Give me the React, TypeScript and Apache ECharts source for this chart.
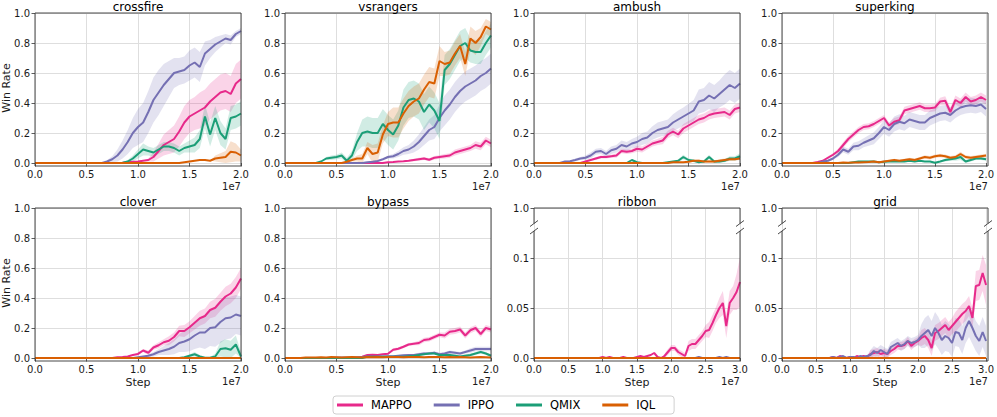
import React, { useEffect, useRef } from 'react';
import * as echarts from 'echarts';

// ---------------- data ----------------
const STEP = 5e5; // spacing of the logged points (0.05e7)
const ALGOS = ['MAPPO', 'IPPO', 'QMIX', 'IQL'];
const COLORS = ['#e7298a', '#7570b3', '#1b9e77', '#d95f02'];
const BAND_FILLS = ['rgba(231,41,138,0.2)', 'rgba(117,112,179,0.2)', 'rgba(27,158,119,0.2)', 'rgba(217,95,2,0.2)'];
const X_TICK_LABELS_20 = ['0.0', '0.5', '1.0', '1.5', '2.0'];
const X_TICK_LABELS_30 = ['0.0', '0.5', '1.0', '1.5', '2.0', '2.5', '3.0'];
const Y_TICK_LABELS = ['0.0', '0.2', '0.4', '0.6', '0.8', '1.0'];
const Y_TICK_LABELS_BROKEN = ['0.0', '0.05', '0.1', '1.0'];

const ZERO_20M = [
  0, 0, 0, 0, 0, 0, 0, 0, 0, 0,
  0, 0, 0, 0, 0, 0, 0, 0, 0, 0,
  0, 0, 0, 0, 0, 0, 0, 0, 0, 0,
  0, 0, 0, 0, 0, 0, 0, 0, 0, 0,
  0];
const ZERO_30M = [
  0, 0, 0, 0, 0, 0, 0, 0, 0, 0,
  0, 0, 0, 0, 0, 0, 0, 0, 0, 0,
  0, 0, 0, 0, 0, 0, 0, 0, 0, 0,
  0, 0, 0, 0, 0, 0, 0, 0, 0, 0,
  0, 0, 0, 0, 0, 0, 0, 0, 0, 0,
  0, 0, 0, 0, 0, 0, 0, 0, 0, 0,
  0];

// crossfire
const crossfireMAPPO = [
  0, 0, 0, 0, 0, 0, 0, 0, 0, 0,
  0, 0, 0, 0, 0, 0, 0, 0.002, 0.005, 0.008,
  0.01, 0.015, 0.02, 0.04, 0.08, 0.12, 0.14, 0.16, 0.21, 0.27,
  0.31, 0.33, 0.35, 0.37, 0.41, 0.44, 0.47, 0.48, 0.46, 0.53,
  0.56];
const crossfireMAPPOSd = [
  0, 0, 0, 0, 0, 0, 0, 0, 0, 0,
  0, 0, 0, 0, 0, 0, 0, 0, 0, 0,
  0, 0, 0.01, 0.03, 0.05, 0.07, 0.08, 0.09, 0.1, 0.11,
  0.11, 0.11, 0.12, 0.12, 0.12, 0.12, 0.12, 0.12, 0.12, 0.13,
  0.13];
const crossfireIPPO = [
  0, 0, 0, 0, 0, 0, 0, 0, 0, 0,
  0, 0, 0, 0, 0.01, 0.025, 0.05, 0.09, 0.14, 0.2,
  0.24, 0.27, 0.34, 0.42, 0.47, 0.52, 0.56, 0.6, 0.61, 0.62,
  0.65, 0.67, 0.64, 0.73, 0.76, 0.79, 0.81, 0.83, 0.82, 0.86,
  0.88];
const crossfireIPPOSd = [
  0, 0, 0, 0, 0, 0, 0, 0, 0, 0,
  0, 0, 0, 0, 0.01, 0.02, 0.04, 0.06, 0.08, 0.1,
  0.12, 0.13, 0.14, 0.15, 0.15, 0.14, 0.12, 0.1, 0.09, 0.09,
  0.1, 0.1, 0.1, 0.08, 0.06, 0.05, 0.04, 0.03, 0.03, 0.02,
  0.02];
const crossfireQMIX = [
  0, 0, 0, 0, 0, 0, 0, 0, 0, 0,
  0, 0, 0, 0, 0, 0, 0, 0.002, 0.01, 0.03,
  0.06, 0.09, 0.08, 0.07, 0.09, 0.11, 0.11, 0.1, 0.08, 0.1,
  0.11, 0.12, 0.16, 0.31, 0.19, 0.3, 0.2, 0.16, 0.3, 0.31,
  0.33];
const crossfireQMIXSd = [
  0, 0, 0, 0, 0, 0, 0, 0, 0, 0,
  0, 0, 0, 0, 0, 0, 0, 0, 0.01, 0.02,
  0.03, 0.04, 0.03, 0.03, 0.03, 0.03, 0.03, 0.03, 0.03, 0.03,
  0.04, 0.05, 0.06, 0.08, 0.08, 0.08, 0.08, 0.07, 0.08, 0.08,
  0.08];
const crossfireIQL = [
  0, 0, 0, 0, 0, 0, 0, 0, 0, 0,
  0, 0, 0, 0, 0, 0, 0, 0, 0, 0,
  0, 0, 0, 0, 0, 0, 0, 0, 0, 0.005,
  0.01, 0.015, 0.02, 0.02, 0.015, 0.03, 0.035, 0.04, 0.075, 0.07,
  0.05];
const crossfireIQLSd = [
  0, 0, 0, 0, 0, 0, 0, 0, 0, 0,
  0, 0, 0, 0, 0, 0, 0, 0, 0, 0,
  0, 0, 0, 0, 0, 0, 0, 0, 0, 0,
  0, 0, 0, 0, 0, 0.02, 0.03, 0.04, 0.07, 0.06,
  0.04];

// vsrangers
const vsrangersMAPPO = [
  0, 0, 0, 0, 0, 0, 0, 0, 0, 0,
  0, 0, 0, 0, 0, 0, 0, 0, 0, 0,
  0.005, 0.007, 0.01, 0.012, 0.015, 0.02, 0.025, 0.03, 0.022, 0.035,
  0.04, 0.045, 0.05, 0.07, 0.08, 0.09, 0.1, 0.12, 0.11, 0.15,
  0.13];
const vsrangersMAPPOSd = [
  0, 0, 0, 0, 0, 0, 0, 0, 0, 0,
  0, 0, 0, 0, 0, 0, 0, 0, 0, 0,
  0, 0, 0, 0, 0.005, 0.008, 0.01, 0.01, 0.01, 0.012,
  0.012, 0.015, 0.015, 0.02, 0.02, 0.02, 0.02, 0.025, 0.025, 0.025,
  0.025];
const vsrangersIPPO = [
  0, 0, 0, 0, 0, 0, 0, 0, 0, 0,
  0, 0, 0, 0, 0, 0, 0.005, 0.008, 0.013, 0.025,
  0.04, 0.045, 0.06, 0.08, 0.09, 0.11, 0.14, 0.18, 0.22, 0.24,
  0.3, 0.35, 0.39, 0.44, 0.48, 0.51, 0.53, 0.55, 0.58, 0.6,
  0.63];
const vsrangersIPPOSd = [
  0, 0, 0, 0, 0, 0, 0, 0, 0, 0,
  0, 0, 0, 0, 0, 0, 0, 0, 0, 0.005,
  0.01, 0.015, 0.02, 0.025, 0.03, 0.04, 0.05, 0.06, 0.07, 0.08,
  0.09, 0.1, 0.1, 0.1, 0.1, 0.1, 0.1, 0.1, 0.1, 0.1,
  0.1];
const vsrangersQMIX = [
  0, 0, 0, 0, 0, 0, 0, 0.01, 0.03, 0.035,
  0.04, 0.05, 0.015, 0.05, 0.14, 0.2, 0.21, 0.2, 0.2, 0.26,
  0.22, 0.19, 0.25, 0.37, 0.42, 0.43, 0.41, 0.34, 0.39, 0.35,
  0.28, 0.62, 0.66, 0.72, 0.78, 0.8, 0.75, 0.74, 0.74, 0.8,
  0.85];
const vsrangersQMIXSd = [
  0, 0, 0, 0, 0, 0, 0, 0, 0.01, 0.015,
  0.015, 0.02, 0.02, 0.03, 0.06, 0.09, 0.1, 0.1, 0.1, 0.1,
  0.1, 0.1, 0.1, 0.12, 0.12, 0.12, 0.12, 0.12, 0.12, 0.12,
  0.12, 0.1, 0.1, 0.1, 0.1, 0.1, 0.08, 0.08, 0.08, 0.08,
  0.08];
const vsrangersIQL = [
  0, 0, 0, 0, 0, 0, 0, 0, 0, 0,
  0, 0, 0.008, 0.02, 0.03, 0.03, 0.1, 0.06, 0.07, 0.19,
  0.26, 0.27, 0.27, 0.33, 0.38, 0.41, 0.43, 0.49, 0.54, 0.53,
  0.68, 0.66, 0.67, 0.73, 0.78, 0.66, 0.83, 0.8, 0.84, 0.91,
  0.89];
const vsrangersIQLSd = [
  0, 0, 0, 0, 0, 0, 0, 0, 0, 0,
  0, 0, 0, 0.01, 0.02, 0.03, 0.04, 0.06, 0.06, 0.06,
  0.08, 0.1, 0.1, 0.1, 0.1, 0.1, 0.1, 0.1, 0.1, 0.1,
  0.1, 0.08, 0.08, 0.08, 0.08, 0.08, 0.08, 0.08, 0.06, 0.05,
  0.05];

// ambush
const ambushMAPPO = [
  0, 0, 0, 0, 0, 0, 0, 0, 0, 0,
  0.01, 0.02, 0.03, 0.04, 0.04, 0.045, 0.05, 0.08, 0.075, 0.08,
  0.095, 0.09, 0.11, 0.13, 0.14, 0.15, 0.19, 0.21, 0.19, 0.23,
  0.25, 0.27, 0.29, 0.3, 0.32, 0.33, 0.335, 0.34, 0.32, 0.36,
  0.37];
const ambushMAPPOSd = [
  0, 0, 0, 0, 0, 0, 0, 0, 0, 0,
  0.005, 0.005, 0.01, 0.01, 0.01, 0.01, 0.015, 0.015, 0.015, 0.015,
  0.02, 0.02, 0.02, 0.02, 0.02, 0.025, 0.025, 0.025, 0.025, 0.03,
  0.03, 0.03, 0.03, 0.03, 0.03, 0.03, 0.03, 0.03, 0.03, 0.03,
  0.03];
const ambushIPPO = [
  0, 0, 0, 0, 0, 0, 0.01, 0.012, 0.02, 0.03,
  0.035, 0.05, 0.075, 0.08, 0.06, 0.085, 0.095, 0.12, 0.11, 0.13,
  0.14, 0.16, 0.17, 0.2, 0.22, 0.23, 0.24, 0.27, 0.29, 0.31,
  0.33, 0.35, 0.41, 0.42, 0.45, 0.43, 0.46, 0.49, 0.52, 0.5,
  0.53];
const ambushIPPOSd = [
  0, 0, 0, 0, 0, 0, 0.005, 0.005, 0.01, 0.01,
  0.015, 0.02, 0.02, 0.02, 0.02, 0.025, 0.025, 0.03, 0.03, 0.03,
  0.035, 0.04, 0.04, 0.045, 0.05, 0.05, 0.05, 0.055, 0.06, 0.06,
  0.065, 0.07, 0.08, 0.08, 0.09, 0.09, 0.09, 0.1, 0.1, 0.1,
  0.1];
const ambushQMIX = [
  0, 0, 0, 0, 0, 0, 0, 0, 0, 0,
  0, 0, 0, 0, 0, 0, 0, 0, 0, 0.02,
  0.005, 0, 0, 0, 0, 0, 0.005, 0.01, 0.015, 0.04,
  0.02, 0.015, 0.005, 0.01, 0.04, 0.01, 0.01, 0.015, 0.03, 0.03,
  0.045];
const ambushQMIXSd = [
  0, 0, 0, 0, 0, 0, 0, 0, 0, 0,
  0, 0, 0, 0, 0, 0, 0, 0, 0, 0,
  0, 0, 0, 0, 0, 0, 0, 0, 0.01, 0.015,
  0.01, 0.01, 0.005, 0.01, 0.015, 0.01, 0.01, 0.01, 0.015, 0.015,
  0.02];
const ambushIQL = [
  0, 0, 0, 0, 0, 0, 0, 0, 0, 0,
  0, 0, 0, 0, 0, 0, 0, 0, 0, 0,
  0, 0, 0, 0, 0, 0, 0, 0.005, 0.005, 0.005,
  0.008, 0.015, 0.015, 0.01, 0.01, 0.01, 0.015, 0.02, 0.025, 0.025,
  0.03];
const ambushIQLSd = [
  0, 0, 0, 0, 0, 0, 0, 0, 0, 0,
  0, 0, 0, 0, 0, 0, 0, 0, 0, 0,
  0, 0, 0, 0, 0, 0, 0, 0, 0, 0,
  0.005, 0.005, 0.008, 0.008, 0.008, 0.008, 0.01, 0.01, 0.01, 0.01,
  0.01];

// superking
const superkingMAPPO = [
  0, 0, 0, 0, 0, 0, 0, 0.007, 0.015, 0.035,
  0.055, 0.08, 0.12, 0.16, 0.19, 0.22, 0.24, 0.245, 0.26, 0.28,
  0.3, 0.25, 0.275, 0.285, 0.35, 0.36, 0.37, 0.38, 0.365, 0.365,
  0.37, 0.41, 0.415, 0.34, 0.42, 0.4, 0.44, 0.41, 0.42, 0.44,
  0.42];
const superkingMAPPOSd = [
  0, 0, 0, 0, 0, 0, 0, 0, 0.005, 0.01,
  0.01, 0.015, 0.02, 0.02, 0.02, 0.02, 0.02, 0.02, 0.02, 0.02,
  0.02, 0.02, 0.025, 0.025, 0.025, 0.025, 0.025, 0.025, 0.025, 0.025,
  0.025, 0.025, 0.03, 0.03, 0.03, 0.03, 0.03, 0.03, 0.03, 0.03,
  0.03];
const superkingIPPO = [
  0, 0, 0, 0, 0, 0, 0, 0, 0.01, 0.015,
  0.03, 0.055, 0.09, 0.075, 0.11, 0.115, 0.135, 0.15, 0.165, 0.2,
  0.24, 0.22, 0.26, 0.275, 0.265, 0.29, 0.28, 0.27, 0.27, 0.3,
  0.315, 0.33, 0.335, 0.32, 0.35, 0.37, 0.38, 0.385, 0.38, 0.39,
  0.36];
const superkingIPPOSd = [
  0, 0, 0, 0, 0, 0, 0, 0, 0, 0.005,
  0.01, 0.015, 0.02, 0.02, 0.025, 0.03, 0.03, 0.035, 0.04, 0.04,
  0.045, 0.045, 0.05, 0.05, 0.05, 0.05, 0.05, 0.05, 0.05, 0.05,
  0.05, 0.05, 0.05, 0.05, 0.05, 0.05, 0.05, 0.05, 0.05, 0.05,
  0.05];
const superkingQMIX = [
  0, 0, 0, 0, 0, 0, 0, 0, 0, 0,
  0, 0, 0, 0, 0.005, 0.01, 0.01, 0.01, 0.01, 0.005,
  0.008, 0.01, 0.01, 0.01, 0.01, 0.015, 0.01, 0.015, 0.01, 0.01,
  0.002, 0.01, 0.02, 0.025, 0.03, 0.04, 0.01, 0.02, 0.03, 0.03,
  0.025];
const superkingQMIXSd = [
  0, 0, 0, 0, 0, 0, 0, 0, 0, 0,
  0, 0, 0, 0, 0, 0, 0, 0, 0, 0,
  0, 0, 0, 0, 0, 0, 0, 0, 0, 0,
  0, 0, 0.01, 0.01, 0.015, 0.02, 0.01, 0.01, 0.01, 0.01,
  0.01];
const superkingIQL = [
  0, 0, 0, 0, 0, 0, 0, 0, 0, 0,
  0, 0, 0.003, 0.002, 0.003, 0.004, 0.005, 0.006, 0.01, 0.005,
  0.01, 0.015, 0.02, 0.015, 0.02, 0.025, 0.02, 0.03, 0.04, 0.035,
  0.045, 0.05, 0.045, 0.035, 0.04, 0.06, 0.04, 0.035, 0.04, 0.045,
  0.05];
const superkingIQLSd = [
  0, 0, 0, 0, 0, 0, 0, 0, 0, 0,
  0, 0, 0, 0, 0, 0, 0, 0, 0, 0,
  0.005, 0.005, 0.008, 0.008, 0.008, 0.01, 0.01, 0.01, 0.012, 0.012,
  0.012, 0.012, 0.012, 0.012, 0.012, 0.015, 0.012, 0.012, 0.012, 0.012,
  0.012];

// clover
const cloverMAPPO = [
  0, 0, 0, 0, 0, 0, 0, 0, 0, 0,
  0, 0, 0, 0, 0, 0, 0.005, 0.007, 0.01, 0.02,
  0.027, 0.05, 0.035, 0.07, 0.085, 0.105, 0.115, 0.14, 0.18, 0.18,
  0.205, 0.235, 0.265, 0.28, 0.32, 0.335, 0.375, 0.41, 0.43, 0.47,
  0.53];
const cloverMAPPOSd = [
  0, 0, 0, 0, 0, 0, 0, 0, 0, 0,
  0, 0, 0, 0, 0, 0, 0, 0, 0, 0,
  0.01, 0.01, 0.015, 0.015, 0.02, 0.02, 0.03, 0.03, 0.035, 0.04,
  0.04, 0.045, 0.05, 0.05, 0.055, 0.06, 0.06, 0.065, 0.065, 0.07,
  0.07];
const cloverIPPO = [
  0, 0, 0, 0, 0, 0, 0, 0, 0, 0,
  0, 0, 0, 0, 0, 0, 0, 0, 0, 0,
  0.005, 0.01, 0.015, 0.025, 0.04, 0.05, 0.06, 0.075, 0.1, 0.11,
  0.125, 0.15, 0.17, 0.17, 0.2, 0.205, 0.24, 0.265, 0.27, 0.29,
  0.28];
const cloverIPPOSd = [
  0, 0, 0, 0, 0, 0, 0, 0, 0, 0,
  0, 0, 0, 0, 0, 0, 0, 0, 0, 0,
  0, 0, 0.01, 0.015, 0.02, 0.03, 0.04, 0.05, 0.06, 0.07,
  0.08, 0.09, 0.1, 0.11, 0.12, 0.13, 0.14, 0.14, 0.14, 0.13,
  0.13];
const cloverQMIX = [
  0, 0, 0, 0, 0, 0, 0, 0, 0, 0,
  0, 0, 0, 0, 0, 0, 0, 0, 0, 0,
  0, 0, 0, 0, 0, 0, 0, 0, 0, 0.005,
  0.015, 0.025, 0.01, 0.002, 0.002, 0.01, 0.06, 0.065, 0.055, 0.09,
  0.01];
const cloverQMIXSd = [
  0, 0, 0, 0, 0, 0, 0, 0, 0, 0,
  0, 0, 0, 0, 0, 0, 0, 0, 0, 0,
  0, 0, 0, 0, 0, 0, 0, 0, 0, 0,
  0.01, 0.015, 0.01, 0.005, 0.005, 0.02, 0.05, 0.06, 0.06, 0.06,
  0.03];
const cloverIQL = ZERO_20M;

// bypass
const bypassMAPPO = [
  0, 0, 0, 0, 0, 0, 0, 0, 0, 0,
  0, 0, 0, 0, 0, 0.008, 0.02, 0.022, 0.02, 0.025,
  0.028, 0.055, 0.062, 0.075, 0.09, 0.095, 0.1, 0.12, 0.125, 0.14,
  0.155, 0.15, 0.175, 0.18, 0.19, 0.15, 0.185, 0.2, 0.16, 0.2,
  0.19];
const bypassMAPPOSd = [
  0, 0, 0, 0, 0, 0, 0, 0, 0, 0,
  0, 0, 0, 0, 0, 0, 0.005, 0.005, 0.005, 0.005,
  0.005, 0.01, 0.01, 0.01, 0.01, 0.01, 0.015, 0.015, 0.015, 0.015,
  0.015, 0.02, 0.02, 0.02, 0.02, 0.02, 0.02, 0.02, 0.02, 0.02,
  0.02];
const bypassIPPO = [
  0, 0, 0, 0, 0, 0, 0, 0, 0, 0,
  0.003, 0.003, 0.004, 0.004, 0.005, 0.006, 0.01, 0.008, 0.01, 0.01,
  0.012, 0.012, 0.015, 0.018, 0.02, 0.02, 0.025, 0.03, 0.03, 0.035,
  0.025, 0.03, 0.04, 0.035, 0.03, 0.04, 0.05, 0.06, 0.06, 0.06,
  0.06];
const bypassIPPOSd = [
  0, 0, 0, 0, 0, 0, 0, 0, 0, 0,
  0, 0, 0, 0, 0, 0, 0.005, 0.005, 0.005, 0.005,
  0.005, 0.005, 0.005, 0.005, 0.005, 0.005, 0.01, 0.01, 0.01, 0.01,
  0.01, 0.01, 0.01, 0.01, 0.01, 0.01, 0.015, 0.015, 0.015, 0.015,
  0.015];
const bypassQMIX = [
  0, 0, 0, 0, 0, 0, 0, 0, 0, 0,
  0, 0, 0, 0, 0, 0, 0.008, 0.008, 0.008, 0.008,
  0.008, 0.008, 0.008, 0.008, 0.012, 0.015, 0.02, 0.025, 0.03, 0.03,
  0.02, 0.02, 0.02, 0.015, 0.01, 0.015, 0.02, 0.03, 0.04, 0.03,
  0.015];
const bypassQMIXSd = [
  0, 0, 0, 0, 0, 0, 0, 0, 0, 0,
  0, 0, 0, 0, 0, 0, 0, 0, 0, 0,
  0, 0, 0, 0, 0.005, 0.005, 0.005, 0.005, 0.005, 0.005,
  0.01, 0.01, 0.01, 0.01, 0.01, 0.01, 0.01, 0.01, 0.01, 0.01,
  0.01];
const bypassIQL = [
  0, 0, 0, 0, 0.003, 0.004, 0.003, 0.005, 0.004, 0.006,
  0.005, 0.004, 0.005, 0.006, 0.005, 0.004, 0.006, 0.005, 0.006, 0.005,
  0.006, 0.007, 0.006, 0.005, 0.006, 0.007, 0.006, 0.005, 0.006, 0.007,
  0.006, 0.005, 0.006, 0.005, 0.006, 0.005, 0.004, 0.005, 0.006, 0.005,
  0.004];

// ribbon (3e7 steps)
const ribbonMAPPO = [
  0, 0, 0, 0, 0, 0, 0, 0, 0, 0,
  0, 0, 0, 0, 0, 0, 0, 0, 0, 0,
  0.001, 0, 0.001, 0, 0, 0, 0.001, 0, 0, 0,
  0.001, 0.002, 0.001, 0.002, 0.003, 0.005, 0.001, 0, 0.002, 0.006,
  0.01, 0.01, 0.006, 0.004, 0.002, 0.012, 0.014, 0.014, 0.018, 0.022,
  0.027, 0.028, 0.035, 0.043, 0.05, 0.055, 0.032, 0.055, 0.06, 0.066,
  0.076];
const ribbonMAPPOSd = [
  0, 0, 0, 0, 0, 0, 0, 0, 0, 0,
  0, 0, 0, 0, 0, 0, 0, 0, 0, 0,
  0, 0, 0, 0, 0, 0, 0, 0, 0, 0,
  0, 0, 0, 0, 0, 0, 0, 0, 0.002, 0.003,
  0.003, 0.003, 0.003, 0.003, 0.003, 0.005, 0.005, 0.005, 0.005, 0.005,
  0.006, 0.008, 0.008, 0.008, 0.01, 0.012, 0.012, 0.012, 0.012, 0.018,
  0.025];
const ribbonIPPO = [
  0, 0, 0, 0, 0, 0, 0, 0, 0, 0,
  0, 0, 0, 0, 0, 0, 0, 0, 0, 0,
  0, 0, 0, 0, 0, 0, 0, 0, 0, 0,
  0, 0, 0, 0, 0, 0, 0, 0, 0, 0,
  0, 0, 0, 0, 0, 0, 0, 0, 0.001, 0,
  0, 0, 0, 0, 0.001, 0, 0.001, 0, 0, 0,
  0];
const ribbonQMIX = ZERO_30M;
const ribbonIQL = ZERO_30M;

// grid (3e7 steps)
const gridMAPPO = [
  0, 0, 0, 0, 0, 0, 0, 0, 0, 0,
  0, 0, 0, 0, 0, 0.001, 0, 0.002, 0.001, 0,
  0.001, 0, 0.002, 0.001, 0.002, 0.001, 0.004, 0.005, 0.006, 0.004,
  0.005, 0.004, 0.007, 0.009, 0.012, 0.012, 0.013, 0.017, 0.012, 0.015,
  0.017, 0.02, 0.022, 0.018, 0.01, 0.025, 0.027, 0.03, 0.033, 0.028,
  0.032, 0.036, 0.04, 0.044, 0.047, 0.052, 0.04, 0.072, 0.073, 0.085,
  0.073];
const gridMAPPOSd = [
  0, 0, 0, 0, 0, 0, 0, 0, 0, 0,
  0, 0, 0, 0, 0, 0, 0, 0, 0, 0,
  0, 0, 0, 0, 0, 0, 0.004, 0.004, 0.004, 0.004,
  0.004, 0.004, 0.004, 0.004, 0.004, 0.004, 0.004, 0.004, 0.004, 0.004,
  0.004, 0.008, 0.008, 0.008, 0.008, 0.008, 0.008, 0.008, 0.008, 0.008,
  0.008, 0.01, 0.01, 0.01, 0.01, 0.01, 0.01, 0.015, 0.015, 0.018,
  0.02];
const gridIPPO = [
  0, 0, 0, 0, 0, 0, 0, 0, 0, 0,
  0, 0, 0, 0, 0, 0.001, 0, 0.001, 0.002, 0,
  0.001, 0.001, 0, 0.002, 0.001, 0.002, 0.003, 0.007, 0.005, 0.008,
  0.006, 0.004, 0.011, 0.013, 0.015, 0.012, 0.014, 0.017, 0.015, 0.016,
  0.018, 0.022, 0.025, 0.028, 0.022, 0.03, 0.025, 0.018, 0.022, 0.02,
  0.015, 0.026, 0.025, 0.018, 0.03, 0.037, 0.03, 0.022, 0.017, 0.026,
  0.017];
const gridIPPOSd = [
  0, 0, 0, 0, 0, 0, 0, 0, 0, 0,
  0, 0, 0, 0, 0, 0, 0, 0, 0, 0,
  0, 0, 0, 0, 0, 0, 0.005, 0.005, 0.005, 0.005,
  0.005, 0.005, 0.005, 0.005, 0.005, 0.005, 0.005, 0.005, 0.005, 0.005,
  0.005, 0.012, 0.015, 0.015, 0.015, 0.016, 0.016, 0.015, 0.015, 0.014,
  0.014, 0.014, 0.014, 0.014, 0.015, 0.016, 0.016, 0.015, 0.015, 0.015,
  0.015];
const gridQMIX = ZERO_30M;
const gridIQL = ZERO_30M;

type Pair = [number[], number[] | null];
interface Panel { title: string; xMax: number; broken: boolean; data: Pair[] }

const PANELS: Panel[] = [
  { title: 'crossfire', xMax: 2e7, broken: false, data: [[crossfireMAPPO, crossfireMAPPOSd], [crossfireIPPO, crossfireIPPOSd], [crossfireQMIX, crossfireQMIXSd], [crossfireIQL, crossfireIQLSd]] },
  { title: 'vsrangers', xMax: 2e7, broken: false, data: [[vsrangersMAPPO, vsrangersMAPPOSd], [vsrangersIPPO, vsrangersIPPOSd], [vsrangersQMIX, vsrangersQMIXSd], [vsrangersIQL, vsrangersIQLSd]] },
  { title: 'ambush', xMax: 2e7, broken: false, data: [[ambushMAPPO, ambushMAPPOSd], [ambushIPPO, ambushIPPOSd], [ambushQMIX, ambushQMIXSd], [ambushIQL, ambushIQLSd]] },
  { title: 'superking', xMax: 2e7, broken: false, data: [[superkingMAPPO, superkingMAPPOSd], [superkingIPPO, superkingIPPOSd], [superkingQMIX, superkingQMIXSd], [superkingIQL, superkingIQLSd]] },
  { title: 'clover', xMax: 2e7, broken: false, data: [[cloverMAPPO, cloverMAPPOSd], [cloverIPPO, cloverIPPOSd], [cloverQMIX, cloverQMIXSd], [cloverIQL, null]] },
  { title: 'bypass', xMax: 2e7, broken: false, data: [[bypassMAPPO, bypassMAPPOSd], [bypassIPPO, bypassIPPOSd], [bypassQMIX, bypassQMIXSd], [bypassIQL, null]] },
  { title: 'ribbon', xMax: 3e7, broken: true, data: [[ribbonMAPPO, ribbonMAPPOSd], [ribbonIPPO, null], [ribbonQMIX, null], [ribbonIQL, null]] },
  { title: 'grid', xMax: 3e7, broken: true, data: [[gridMAPPO, gridMAPPOSd], [gridIPPO, gridIPPOSd], [gridQMIX, null], [gridIQL, null]] },
];

// ---------------- layout ----------------
const COL_LEFT = [35, 285, 534, 782];
const ROW_TOP = [13, 208];
const PW = 206;
const PH = 150;
const FRAME_PAD = 3; // frame extends slightly below y = 0
const FONT = 'DejaVu Sans';
const TXT = '#1a1a1a';
const FRAME = '#333333';
const GRIDC = '#dedede';

function buildOption() {
  const grids: any[] = [];
  const xAxes: any[] = [];
  const yAxes: any[] = [];
  const bands: any[] = [];
  const lines: any[] = [];
  const graphics: any[] = [];

  PANELS.forEach((p, i) => {
    const row = Math.floor(i / 4);
    const col = i % 4;
    const L = COL_LEFT[col];
    const T = ROW_TOP[row];
    const R = L + PW;
    const B = T + PH + FRAME_PAD;
    grids.push({ left: L, top: T, width: PW, height: PH, containLabel: false });
    const xl = p.xMax > 2e7 ? X_TICK_LABELS_30 : X_TICK_LABELS_20;
    xAxes.push({
      type: 'value', gridIndex: i, min: 0, max: p.xMax, interval: 5e6, offset: FRAME_PAD,
      axisLine: { show: false },
      axisTick: { show: true, length: 3.5, lineStyle: { color: FRAME, width: 0.8 } },
      axisLabel: { show: true, margin: 3, fontSize: 10, fontFamily: FONT, color: TXT, showMinLabel: true, showMaxLabel: true,
        formatter: (v: number) => xl[Math.round(v / 5e6)] ?? '' },
      splitLine: { show: true, lineStyle: { color: GRIDC, width: 1 } },
    });
    const yCommon = {
      type: 'value', gridIndex: i, min: 0,
      axisLine: { show: false },
      axisTick: { show: true, length: 3.5, lineStyle: { color: FRAME, width: 0.8 } },
      splitLine: { show: true, lineStyle: { color: GRIDC, width: 1 } },
    };
    if (p.broken) {
      yAxes.push({ ...yCommon, max: 0.15, interval: 0.05,
        axisLabel: { margin: 5, fontSize: 10, fontFamily: FONT, color: TXT, showMinLabel: true, showMaxLabel: true,
          formatter: (v: number) => Y_TICK_LABELS_BROKEN[Math.round(v / 0.05)] ?? '' } });
    } else {
      yAxes.push({ ...yCommon, max: 1, interval: 0.2,
        axisLabel: { margin: 5, fontSize: 10, fontFamily: FONT, color: TXT, showMinLabel: true, showMaxLabel: true,
          formatter: (v: number) => Y_TICK_LABELS[Math.round(v / 0.2)] ?? '' } });
    }

    p.data.forEach(([mean, sd], k) => {
      if (sd) {
        const rows = mean.map((m, j) => [j * STEP, Math.max(0, m - sd[j]), m + sd[j]]);
        const fill = BAND_FILLS[k];
        bands.push({
          type: 'custom', name: `${ALGOS[k]} band`, xAxisIndex: i, yAxisIndex: i, silent: true, z: 1, clip: true,
          data: rows,
          encode: { x: 0, y: [1, 2] },
          renderItem: (params: any, api: any) => {
            if (params.dataIndex !== 0) return null;
            const upper = rows.map((r) => api.coord([r[0], r[2]]));
            const lower = rows.map((r) => api.coord([r[0], r[1]])).reverse();
            return { type: 'polygon', shape: { points: upper.concat(lower) }, style: { fill, stroke: null } };
          },
        });
      }
      lines.push({
        type: 'line', name: ALGOS[k], xAxisIndex: i, yAxisIndex: i,
        data: mean.map((m, j) => [j * STEP, m]),
        symbol: 'none', showSymbol: false, clip: false,
        lineStyle: { color: COLORS[k], width: 2 }, itemStyle: { color: COLORS[k] }, z: 3,
      });
    });

    // frame
    const st = { stroke: FRAME, lineWidth: 0.9 };
    if (!p.broken) {
      graphics.push({ type: 'rect', silent: true, z: 100, shape: { x: L, y: T, width: PW, height: PH + FRAME_PAD }, style: { fill: null, ...st } });
    } else {
      const yA = T + 15.5;
      const yB = T + 23;
      const seg = (x1: number, y1: number, x2: number, y2: number) =>
        graphics.push({ type: 'line', silent: true, z: 100, shape: { x1, y1, x2, y2 }, style: { ...st } });
      seg(L, T, R, T);
      seg(L, B, R, B);
      [L, R].forEach((x) => {
        seg(x, T, x, yA);
        seg(x, yB, x, B);
        seg(x - 4, yA + 3, x + 4, yA - 3);
        seg(x - 4, yB + 3, x + 4, yB - 3);
      });
    }
    // title
    graphics.push({ type: 'text', silent: true, z: 100, x: L + PW / 2, y: T - 6,
      style: { text: p.title, fontSize: 12, fontFamily: FONT, fill: '#000', align: 'center', verticalAlign: 'middle' } });
    // offset text
    graphics.push({ type: 'text', silent: true, z: 100, x: R, y: B + 20.5,
      style: { text: '1e7', fontSize: 10, fontFamily: FONT, fill: TXT, align: 'right', verticalAlign: 'middle' } });
    if (row === 1) {
      graphics.push({ type: 'text', silent: true, z: 100, x: L + PW / 2, y: B + 21,
        style: { text: 'Step', fontSize: 11, fontFamily: FONT, fill: TXT, align: 'center', verticalAlign: 'middle' } });
    }
    if (col === 0) {
      graphics.push({ type: 'text', silent: true, z: 100, x: 6, y: T + PH / 2, rotation: Math.PI / 2,
        style: { text: 'Win Rate', fontSize: 11, fontFamily: FONT, fill: TXT, align: 'center', verticalAlign: 'middle' } });
    }
  });

  return {
    animation: false,
    backgroundColor: '#ffffff',
    grid: grids,
    xAxis: xAxes,
    yAxis: yAxes,
    series: [...bands, ...lines],
    graphic: graphics,
    legend: {
      data: ALGOS.map((a) => ({ name: a, icon: 'rect' })),
      left: 333, top: 396,
      itemWidth: 26, itemHeight: 3, itemGap: 22,
      padding: [3, 19, 3, 4],
      borderColor: '#d0d0d0', borderWidth: 1, borderRadius: 3,
      backgroundColor: '#ffffff',
      selectedMode: false,
      textStyle: { fontSize: 11.5, fontFamily: FONT, color: '#000', padding: [0, 0, 0, 3] },
    },
  };
}

export default function App() {
  const ref = useRef<HTMLDivElement>(null);
  useEffect(() => {
    if (!ref.current) return;
    const chart = echarts.init(ref.current, null, { renderer: 'svg' });
    chart.setOption(buildOption() as any);
    return () => chart.dispose();
  }, []);
  return (
    <div
      ref={ref}
      style={{ position: 'fixed', left: 0, top: 0, width: 997, height: 417, background: '#fff' }}
    />
  );
}
